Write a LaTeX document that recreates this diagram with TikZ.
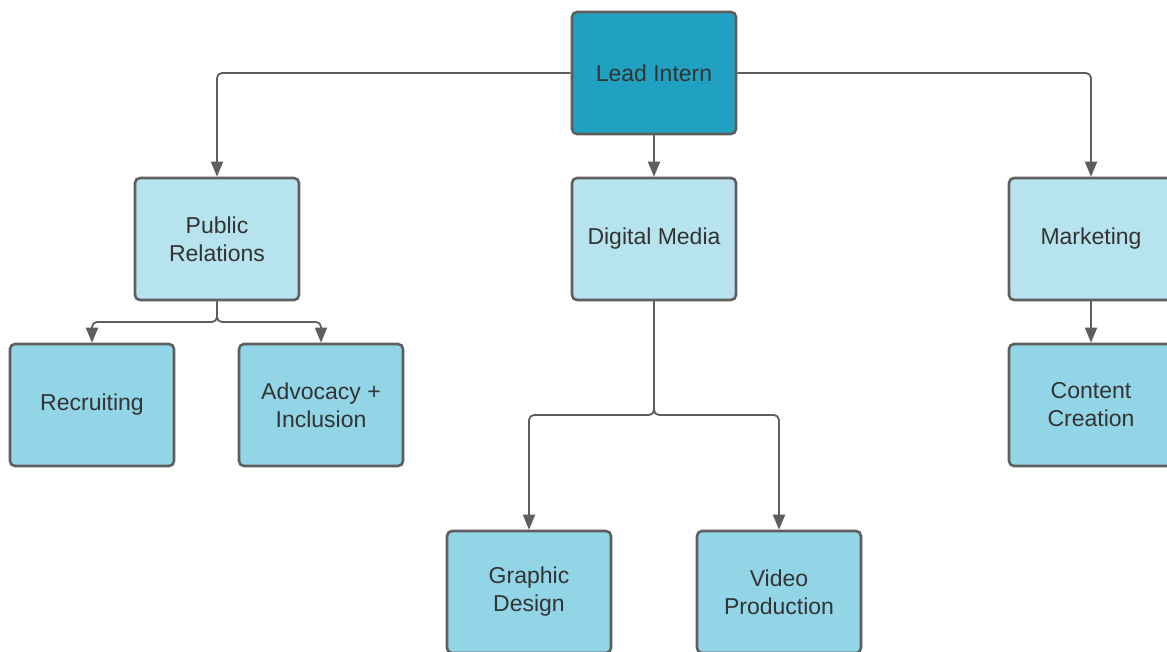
\documentclass[tikz,border=0pt]{standalone}
\usepackage{fontspec}
\setmainfont{Liberation Sans}
\usetikzlibrary{arrows.meta}
\definecolor{topfill}{HTML}{21A1C1}
\definecolor{midfill}{HTML}{B7E3EE}
\definecolor{lowfill}{HTML}{92D5E6}
\definecolor{edgegray}{HTML}{5E5E5E}
\definecolor{txtgray}{HTML}{333333}
\begin{document}
\begin{tikzpicture}[x=1pt,y=-1pt,
  box/.style={draw=edgegray, line width=2.6pt, rounded corners=5pt, minimum width=164pt, minimum height=122pt,
    text=txtgray, align=center, font=\fontsize{23}{28}\selectfont, inner sep=0pt},
  topbox/.style={box, fill=topfill},
  midbox/.style={box, fill=midfill},
  lowbox/.style={box, fill=lowfill},
  conn/.style={draw=edgegray, line width=1.8pt, rounded corners=5pt, -{Triangle[length=15pt,width=12pt]}}]
\useasboundingbox (0,0) rectangle (1167,652);
\node[topbox] (lead) at (654,73) {Lead Intern};
\node[midbox] (pr) at (217,239) {Public\\Relations};
\node[midbox] (dm) at (654,239) {Digital Media};
\node[midbox] (mk) at (1091,239) {Marketing};
\node[lowbox] (rec) at (92,405) {Recruiting};
\node[lowbox] (adv) at (321,405) {Advocacy +\\Inclusion};
\node[lowbox] (cc) at (1091,405) {Content\\Creation};
\node[lowbox] (gd) at (529,592) {Graphic\\Design};
\node[lowbox] (vp) at (779,592) {Video\\Production};
\coordinate (prfork) at (217,322);
\coordinate (dmfork) at (654,415);
\draw[conn] (lead.west) -| (pr.north);
\draw[conn] (lead.east) -| (mk.north);
\draw[conn] (lead.south) -- (dm.north);
\draw[conn] (mk.south) -- (cc.north);
\draw[conn] (pr.south) -- (prfork) -| (rec.north);
\draw[conn] (pr.south) -- (prfork) -| (adv.north);
\draw[conn] (dm.south) -- (dmfork) -| (gd.north);
\draw[conn] (dm.south) -- (dmfork) -| (vp.north);
\end{tikzpicture}
\end{document}
